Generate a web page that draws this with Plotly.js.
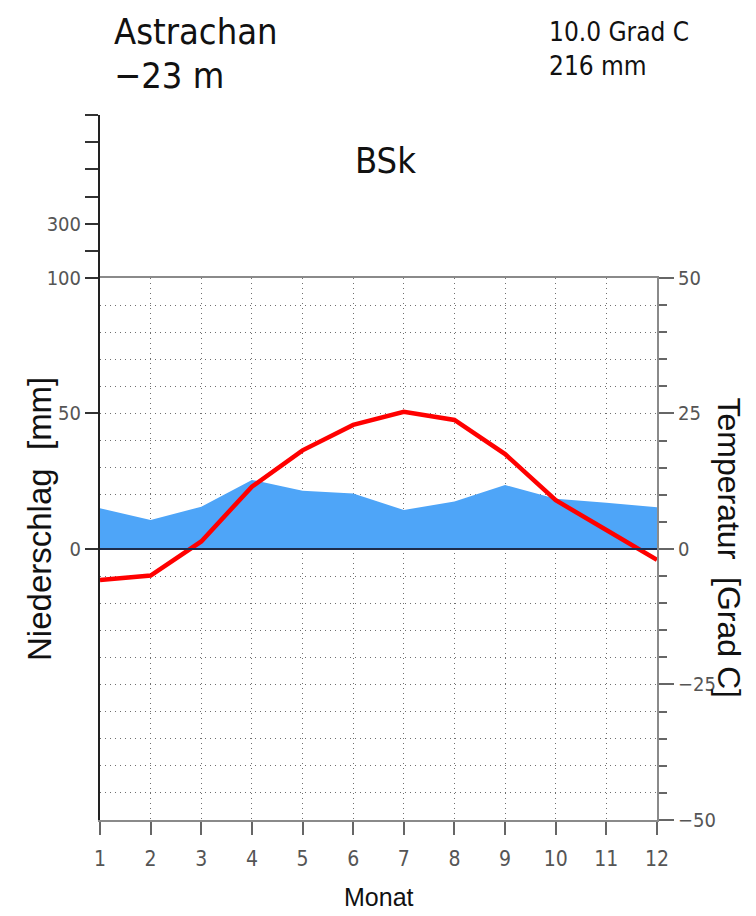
<!DOCTYPE html>
<html>
<head>
<meta charset="utf-8">
<script src="https://cdn.plot.ly/plotly-3.0.1.min.js"></script>
<style>html,body{margin:0;padding:0;background:#fff;}#chart{width:756px;height:916px;}</style>
</head>
<body>
<div id="chart"></div>
<script>
// Data
const months = [1, 2, 3, 4, 5, 6, 7, 8, 9, 10, 11, 12];
const precipitation = [15.0, 10.7, 15.6, 25.5, 21.5, 20.5, 14.4, 17.5, 23.6, 18.5, 17.1, 15.4];
const temperature = [-5.7, -4.9, 1.4, 11.5, 18.2, 22.9, 25.3, 23.8, 17.5, 9.0, 3.5, -2.0];
const precipTicks = [0, 50, 100];
const tempTicks = [-50, -25, 0, 25, 50];
const upperTicks = [100, 200, 300, 400, 500, 600, 700];
const upperTickText = ['', '', '300', '', '', '', ''];
const stationName = 'Astrachan';
const elevation = '−23 m';
const meanTemp = '10.0 Grad C';
const totalPrecip = '216 mm';
const climateClass = 'BSk';

const stroke = '"DejaVu Sans Condensed", "DejaVu Sans", sans-serif';
const sans = '"Liberation Sans", Arial, sans-serif';
const mainTop = 0.7688;
const gridDash = '1px,4px';
const gridColor = '#6f6f6f';

const traces = [
  {
    x: months, y: precipitation, type: 'scatter', mode: 'lines',
    fill: 'tozeroy', fillcolor: '#4ea5f8', line: {width: 0, color: '#4ea5f8'},
    xaxis: 'x', yaxis: 'y', hoverinfo: 'skip', showlegend: false
  },
  {
    x: months, y: temperature, type: 'scatter', mode: 'lines',
    line: {color: '#ff0000', width: 4.5},
    xaxis: 'x', yaxis: 'y2', hoverinfo: 'skip', showlegend: false
  },
  {
    x: [], y: [], type: 'scatter', mode: 'lines',
    xaxis: 'x2', yaxis: 'y3', hoverinfo: 'skip', showlegend: false
  }
];

const layout = {
  width: 756, height: 916,
  margin: {l: 100, r: 99, t: 115, b: 96, pad: 0},
  paper_bgcolor: '#ffffff', plot_bgcolor: 'rgba(0,0,0,0)',
  showlegend: false,
  xaxis: {
    range: [1, 12], domain: [0, 1], anchor: 'y',
    tickvals: months, ticks: 'outside', ticklen: 13, tickwidth: 2, tickcolor: '#666',
    ticklabelstandoff: 6,
    showline: true, linecolor: '#8a8a8a', linewidth: 2, mirror: true,
    showgrid: true, gridcolor: gridColor, griddash: gridDash, gridwidth: 1,
    zeroline: false,
    tickfont: {family: stroke, size: 21, color: '#555'}
  },
  xaxis2: {
    range: [1, 12], domain: [0, 1], anchor: 'y3', overlaying: 'x', visible: false
  },
  yaxis: {
    range: [-100, 100], domain: [0, mainTop], anchor: 'x',
    tickvals: precipTicks, ticks: 'outside', ticklen: 13, tickwidth: 2, tickcolor: '#333',
    showline: true, linecolor: '#222', linewidth: 2,
    showgrid: false, zeroline: false,
    tickfont: {family: stroke, size: 20, color: '#555'}
  },
  yaxis2: {
    range: [-50, 50], overlaying: 'y', side: 'right', anchor: 'x',
    tickvals: tempTicks, ticks: 'outside', ticklen: 15, tickwidth: 2, tickcolor: '#666',
    showline: true, linecolor: '#8a8a8a', linewidth: 2,
    showgrid: true, gridcolor: gridColor, griddash: gridDash, gridwidth: 1,
    zeroline: false,
    minor: {dtick: 5, ticks: 'outside', ticklen: 8, tickwidth: 2, tickcolor: '#666',
            showgrid: true, gridcolor: gridColor, griddash: gridDash, gridwidth: 1},
    tickfont: {family: stroke, size: 20, color: '#555'}
  },
  yaxis3: {
    range: [100, 700], domain: [mainTop, 1], anchor: 'x2',
    tickvals: upperTicks, ticktext: upperTickText,
    ticks: 'outside', ticklen: 13, tickwidth: 2, tickcolor: '#333',
    showline: true, linecolor: '#222', linewidth: 2,
    showgrid: false, zeroline: false,
    tickfont: {family: stroke, size: 20, color: '#555'}
  },
  shapes: [
    {type: 'line', xref: 'paper', yref: 'y', x0: 0, x1: 1, y0: 0, y1: 0,
     line: {color: '#1d2c4c', width: 2}, layer: 'above'}
  ],
  annotations: [
    {text: stationName, xref: 'paper', yref: 'paper', x: 0.0215, y: 1.119,
     xanchor: 'left', yanchor: 'middle', showarrow: false,
     font: {family: stroke, size: 36, color: '#111'}},
    {text: elevation, xref: 'paper', yref: 'paper', x: 0.0215, y: 1.0555,
     xanchor: 'left', yanchor: 'middle', showarrow: false,
     font: {family: stroke, size: 36, color: '#111'}},
    {text: meanTemp, xref: 'paper', yref: 'paper', x: 0.8025, y: 1.1177,
     xanchor: 'left', yanchor: 'middle', showarrow: false,
     font: {family: stroke, size: 26, color: '#111'}},
    {text: totalPrecip, xref: 'paper', yref: 'paper', x: 0.8025, y: 1.0695,
     xanchor: 'left', yanchor: 'middle', showarrow: false,
     font: {family: stroke, size: 26, color: '#111'}},
    {text: climateClass, xref: 'paper', yref: 'paper', x: 0.5117, y: 0.936,
     xanchor: 'center', yanchor: 'middle', showarrow: false,
     font: {family: stroke, size: 36, color: '#111'}},
    {text: 'Niederschlag\u00a0\u00a0[mm]', xref: 'paper', yref: 'paper', x: -0.1077, y: 0.427,
     xanchor: 'center', yanchor: 'middle', textangle: -90, showarrow: false,
     font: {family: sans, size: 33, color: '#111'}},
    {text: 'Temperatur\u00a0\u00a0[Grad\u00a0C]', xref: 'paper', yref: 'paper', x: 1.13, y: 0.386,
     xanchor: 'center', yanchor: 'middle', textangle: 90, showarrow: false,
     font: {family: sans, size: 32, color: '#111'}},
    {text: 'Monat', xref: 'paper', yref: 'paper', x: 0.5009, y: -0.109,
     xanchor: 'center', yanchor: 'middle', showarrow: false,
     font: {family: sans, size: 25, color: '#111'}}
  ]
};

Plotly.newPlot('chart', traces, layout, {staticPlot: true, displayModeBar: false});
</script>
</body>
</html>
